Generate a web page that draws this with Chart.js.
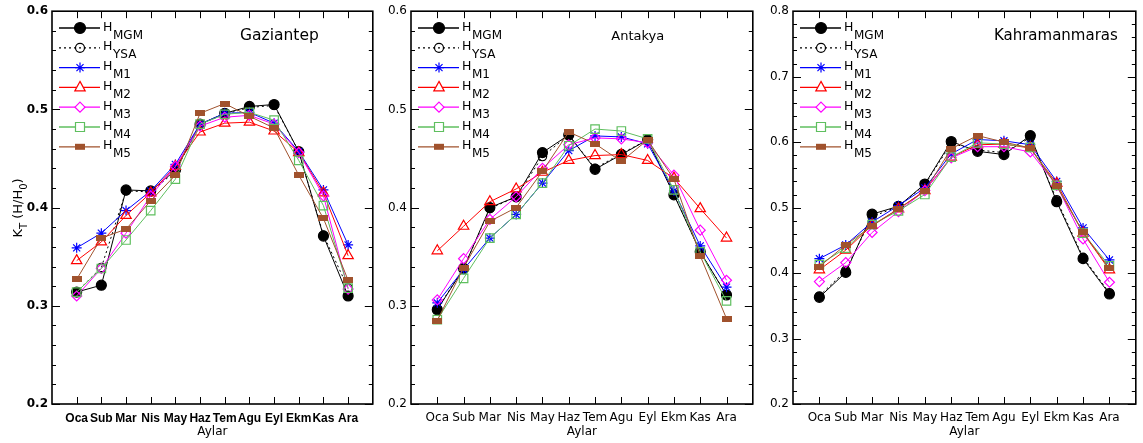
<!DOCTYPE html>
<html>
<head>
<meta charset="utf-8">
<script src="https://cdn.jsdelivr.net/npm/chart.js@4.4.1/dist/chart.umd.min.js"></script>
<style>
  html, body { margin: 0; padding: 0; background: #fff; }
  #wrap { position: relative; width: 1143px; height: 443px; }
  canvas { position: absolute; top: 0; }
</style>
</head>
<body>
<div id="wrap">
  <canvas id="gaz" width="380" height="443" style="left:0"></canvas>
  <canvas id="ant" width="380" height="443" style="left:380px"></canvas>
  <canvas id="kah" width="383" height="443" style="left:760px"></canvas>
</div>
<script>
const months = ["Oca", "Sub", "Mar", "Nis", "May", "Haz", "Tem", "Agu", "Eyl", "Ekm", "Kas", "Ara"];
const subs = ["MGM", "YSA", "M1", "M2", "M3", "M4", "M5"];

// Gaziantep
const gazMGM = [0.314, 0.321, 0.418, 0.417, 0.438, 0.485, 0.496, 0.503, 0.505, 0.457, 0.371, 0.310];
const gazYSA = [0.314, 0.339, 0.417, 0.416, 0.437, 0.485, 0.495, 0.502, 0.504, 0.457, 0.372, 0.318];
const gazM1 = [0.359, 0.374, 0.397, 0.417, 0.444, 0.485, 0.496, 0.497, 0.486, 0.457, 0.418, 0.362];
const gazM2 = [0.346, 0.365, 0.392, 0.415, 0.442, 0.477, 0.486, 0.487, 0.478, 0.456, 0.415, 0.351];
const gazM3 = [0.310, 0.338, 0.374, 0.412, 0.442, 0.483, 0.492, 0.494, 0.485, 0.456, 0.412, 0.317];
const gazM4 = [0.314, 0.338, 0.367, 0.397, 0.429, 0.485, 0.495, 0.497, 0.489, 0.448, 0.402, 0.318];
const gazM5 = [0.327, 0.369, 0.378, 0.407, 0.433, 0.496, 0.506, 0.493, 0.481, 0.433, 0.389, 0.326];

// Antakya
const antMGM = [0.296, 0.338, 0.400, 0.411, 0.456, 0.474, 0.439, 0.454, 0.469, 0.413, 0.355, 0.311];
const antYSA = [0.297, 0.338, 0.399, 0.411, 0.452, 0.474, 0.440, 0.455, 0.469, 0.414, 0.355, 0.311];
const antM1 = [0.303, 0.337, 0.369, 0.393, 0.425, 0.458, 0.473, 0.472, 0.465, 0.417, 0.361, 0.319];
const antM2 = [0.356, 0.381, 0.406, 0.419, 0.436, 0.448, 0.453, 0.454, 0.448, 0.430, 0.399, 0.369];
const antM3 = [0.306, 0.348, 0.388, 0.411, 0.440, 0.464, 0.471, 0.470, 0.466, 0.433, 0.377, 0.326];
const antM4 = [0.286, 0.328, 0.369, 0.393, 0.425, 0.463, 0.480, 0.478, 0.470, 0.418, 0.355, 0.305];
const antM5 = [0.285, 0.339, 0.386, 0.400, 0.437, 0.477, 0.465, 0.447, 0.469, 0.429, 0.351, 0.287];

// Kahramanmaras
const kahMGM = [0.363, 0.401, 0.490, 0.502, 0.536, 0.601, 0.586, 0.581, 0.610, 0.509, 0.422, 0.368];
const kahYSA = [0.365, 0.404, 0.486, 0.502, 0.535, 0.598, 0.588, 0.584, 0.607, 0.512, 0.424, 0.370];
const kahM1 = [0.422, 0.443, 0.478, 0.503, 0.530, 0.582, 0.604, 0.602, 0.596, 0.540, 0.469, 0.420];
const kahM2 = [0.405, 0.435, 0.473, 0.498, 0.526, 0.577, 0.596, 0.597, 0.591, 0.537, 0.461, 0.405];
const kahM3 = [0.387, 0.416, 0.462, 0.494, 0.526, 0.576, 0.593, 0.593, 0.585, 0.534, 0.452, 0.386];
const kahM4 = [0.413, 0.438, 0.474, 0.495, 0.520, 0.577, 0.599, 0.597, 0.592, 0.534, 0.461, 0.411];
const kahM5 = [0.410, 0.443, 0.472, 0.498, 0.525, 0.590, 0.610, 0.600, 0.591, 0.533, 0.462, 0.407];

const ticksLow = [0.2, 0.3, 0.4, 0.5, 0.6];
const ticksHigh = [0.2, 0.3, 0.4, 0.5, 0.6, 0.7, 0.8];

const FONT = '"DejaVu Sans", sans-serif';

// small filled bar used as the M5 marker
function barMarker(w, h, color) {
  const c = document.createElement("canvas");
  c.width = w; c.height = h;
  const g = c.getContext("2d");
  g.fillStyle = color;
  g.fillRect(0, 0, w, h);
  return c;
}

const brown = "#a0522d";
const green = "#5fbf5f";

// line/marker look of each series, in legend order
const styles = [
  { color: "#000", marker: "disc", pointStyle: "circle", radius: 5, fill: "#000", order: 7 },
  { color: "#000", marker: "circle", pointStyle: "circle", radius: 4.2, dash: [2, 3], order: 6 },
  { color: "#0000ff", marker: "star", pointStyle: "star", radius: 5, order: 5 },
  { color: "#ff0000", marker: "triangle", pointStyle: "triangle", radius: 6, order: 4 },
  { color: "#ff00ff", marker: "diamond", pointStyle: "rectRot", radius: 5, order: 3 },
  { color: green, marker: "square", pointStyle: "rect", radius: 6, order: 2 },
  { color: brown, marker: "bar", pointStyle: barMarker(10, 6, brown), radius: 5, fill: brown, order: 1 }
];

function drawMarker(ctx, st, x, y) {
  ctx.save();
  ctx.strokeStyle = st.color;
  ctx.fillStyle = st.fill || "#fff";
  ctx.lineWidth = 1.2;
  ctx.beginPath();
  switch (st.marker) {
    case "disc":
      ctx.arc(x, y, 5.5, 0, Math.PI * 2);
      ctx.fill(); ctx.stroke();
      break;
    case "circle":
      ctx.arc(x, y, 4.5, 0, Math.PI * 2);
      ctx.stroke();
      break;
    case "star":
      for (let k = 0; k < 4; k++) {
        const a = k * Math.PI / 4;
        ctx.moveTo(x - 5 * Math.cos(a), y - 5 * Math.sin(a));
        ctx.lineTo(x + 5 * Math.cos(a), y + 5 * Math.sin(a));
      }
      ctx.stroke();
      break;
    case "triangle":
      ctx.moveTo(x, y - 6); ctx.lineTo(x + 5.2, y + 3.5); ctx.lineTo(x - 5.2, y + 3.5); ctx.closePath();
      ctx.fill(); ctx.stroke();
      break;
    case "diamond":
      ctx.moveTo(x, y - 5); ctx.lineTo(x + 5, y); ctx.lineTo(x, y + 5); ctx.lineTo(x - 5, y); ctx.closePath();
      ctx.fill(); ctx.stroke();
      break;
    case "square":
      ctx.rect(x - 4.5, y - 4.5, 9, 9);
      ctx.fill(); ctx.stroke();
      break;
    case "bar":
      ctx.fillRect(x - 5, y - 3, 10, 6);
      break;
  }
  ctx.restore();
}

// box frame with inward ticks on all four sides
const framePlugin = {
  id: "frame",
  afterDatasetsDraw(chart) {
    const { ctx, chartArea: a, scales: { x, y } } = chart;
    ctx.save();
    ctx.strokeStyle = "#000";
    ctx.lineWidth = 1;
    ctx.beginPath();
    months.forEach((m, i) => {
      const px = Math.round(x.getPixelForValue(i)) + 0.5;
      ctx.moveTo(px, a.bottom); ctx.lineTo(px, a.bottom - 7);
      ctx.moveTo(px, a.top); ctx.lineTo(px, a.top + 7);
    });
    const n = Math.round((y.max - y.min) / 0.02);
    for (let k = 0; k <= n; k++) {
      const py = Math.round(y.getPixelForValue(y.min + k * 0.02)) + 0.5;
      const len = k % 5 === 0 ? 8 : 4;
      ctx.moveTo(a.left, py); ctx.lineTo(a.left + len, py);
      ctx.moveTo(a.right, py); ctx.lineTo(a.right - len, py);
    }
    ctx.stroke();
    ctx.lineWidth = 1.6;
    ctx.strokeRect(a.left, a.top, a.right - a.left, a.bottom - a.top);
    ctx.restore();
  }
};

// legend with subscripts, station name and the K_T axis title
const textPlugin = {
  id: "panelText",
  afterDraw(chart, args, opts) {
    const { ctx, chartArea: a, scales: { x } } = chart;
    ctx.save();
    const x0 = a.left + 7;
    styles.forEach((st, k) => {
      const yr = 28 + k * 19.8;
      ctx.strokeStyle = st.color;
      ctx.lineWidth = 1.3;
      ctx.setLineDash(st.dash || []);
      ctx.beginPath();
      ctx.moveTo(x0, yr); ctx.lineTo(x0 + 41, yr);
      ctx.stroke();
      ctx.setLineDash([]);
      drawMarker(ctx, st, x0 + 21, yr);
      ctx.fillStyle = "#000";
      ctx.textAlign = "left";
      ctx.textBaseline = "alphabetic";
      ctx.font = "12.5px " + FONT;
      ctx.fillText("H", x0 + 44, yr + 2.5);
      ctx.font = "12px " + FONT;
      ctx.fillText(subs[k], x0 + 54, yr + 10.5);
    });

    ctx.font = opts.nameSize + "px " + FONT;
    ctx.fillStyle = "#000";
    ctx.fillText(opts.name, x.getPixelForValue(6.62), 39.5);

    if (opts.yTitle) {
      ctx.translate(22, 208);
      ctx.rotate(-Math.PI / 2);
      const parts = [["K", 13, 0], ["T", 10, 4.5], [" (H/H", 13, 0], ["0", 10, 4.5], [")", 13, 0]];
      let total = 0;
      parts.forEach(p => { ctx.font = p[1] + "px " + FONT; total += ctx.measureText(p[0]).width; });
      let cx = -total / 2;
      parts.forEach(p => {
        ctx.font = p[1] + "px " + FONT;
        ctx.fillText(p[0], cx, p[2]);
        cx += ctx.measureText(p[0]).width;
      });
    }
    ctx.restore();
  }
};

function makePanel(id, name, nameSize, series, yTicks, yWidth, padRight, bold, yTitle) {
  const weight = bold ? "bold" : "normal";
  new Chart(document.getElementById(id), {
    type: "line",
    data: {
      datasets: series.map((vals, k) => {
        const st = styles[k];
        return {
          label: "H" + subs[k],
          data: vals.map((v, i) => ({ x: i, y: v })),
          borderColor: st.color,
          borderWidth: 1,
          borderDash: st.dash || [],
          pointStyle: st.pointStyle,
          pointRadius: st.radius,
          pointBorderColor: st.color,
          pointBackgroundColor: st.fill || "rgba(0,0,0,0)",
          pointBorderWidth: 1.2,
          tension: 0,
          order: st.order
        };
      })
    },
    options: {
      responsive: false,
      animation: false,
      events: [],
      layout: { padding: { top: 8, right: padRight, bottom: 0, left: 0 } },
      plugins: {
        legend: { display: false },
        tooltip: { enabled: false },
        panelText: { name: name, nameSize: nameSize, yTitle: yTitle }
      },
      scales: {
        x: {
          type: "linear",
          min: -1,
          max: 12,
          grid: { display: false, drawTicks: false },
          border: { display: false },
          afterBuildTicks: s => { s.ticks = months.map((m, i) => ({ value: i })); },
          afterFit: s => { s.height = 39; },
          ticks: {
            autoSkip: false,
            maxRotation: 0,
            padding: 7,
            color: "#000",
            font: { family: bold ? '"Liberation Sans", sans-serif' : FONT, size: 12, weight: weight },
            callback: v => months[v]
          },
          title: {
            display: true,
            text: "Aylar",
            color: "#000",
            font: { family: FONT, size: 12 },
            padding: { top: 0, bottom: 4 }
          }
        },
        y: {
          min: yTicks[0],
          max: yTicks[yTicks.length - 1],
          grid: { display: false, drawTicks: false },
          border: { display: false },
          afterBuildTicks: s => { s.ticks = yTicks.map(v => ({ value: v })); },
          afterFit: s => { s.width = yWidth; },
          ticks: {
            padding: 4,
            color: "#000",
            font: { family: FONT, size: 12, weight: weight },
            callback: v => v.toFixed(1)
          }
        }
      }
    },
    plugins: [framePlugin, textPlugin]
  });
}

makePanel("gaz", "Gaziantep", 15.5, [gazMGM, gazYSA, gazM1, gazM2, gazM3, gazM4, gazM5], ticksLow, 52, 3, true, true);
makePanel("ant", "Antakya", 13, [antMGM, antYSA, antM1, antM2, antM3, antM4, antM5], ticksLow, 31, 1, false, false);
makePanel("kah", "Kahramanmaras", 15, [kahMGM, kahYSA, kahM1, kahM2, kahM3, kahM4, kahM5], ticksHigh, 33, 2, false, false);
</script>
</body>
</html>
